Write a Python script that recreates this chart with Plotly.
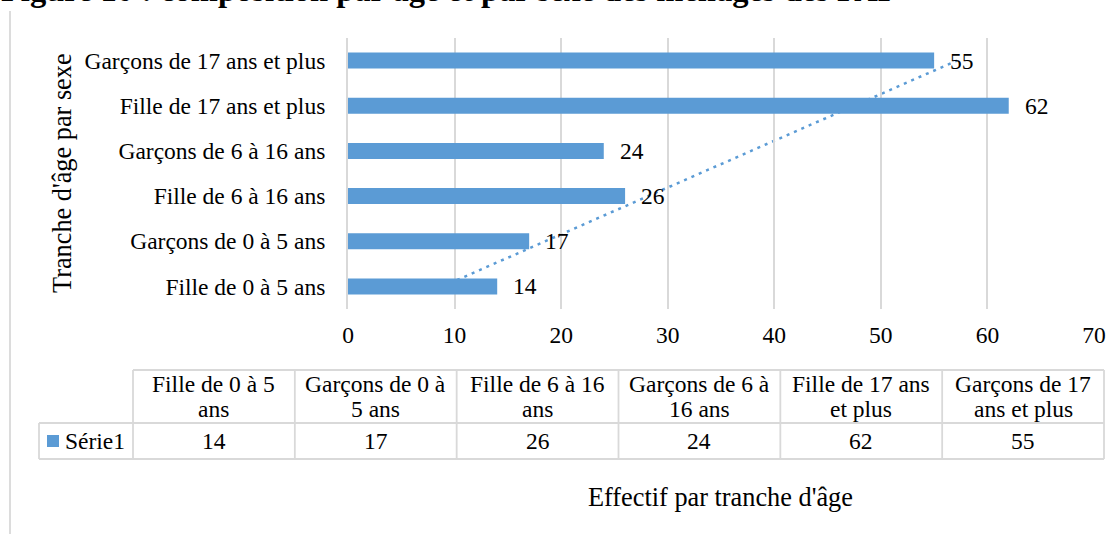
import textwrap
import numpy as np
import plotly.graph_objects as go

# ---------------- data ----------------
categories = [
    "Fille de 0 à 5 ans",
    "Garçons de 0 à 5 ans",
    "Fille de 6 à 16 ans",
    "Garçons de 6 à 16 ans",
    "Fille de 17 ans et plus",
    "Garçons de 17 ans et plus",
]
values = [14, 17, 26, 24, 62, 55]
series_name = "Série1"
x_ticks = [0, 10, 20, 30, 40, 50, 60, 70]
title_text = "Figure 10 : composition par âge et par sexe des ménages des PAP"
y_title = "Tranche d'âge par sexe"
x_title = "Effectif par tranche d'âge"

# ---------------- style ----------------
FW, FH = 1117, 534
L, R, T, B = 348, 23, 38, 225
W = FW - L - R
H = FH - T - B
BLUE = "#5B9BD5"
GRID = "#D9D9D9"
FONT = "Liberation Serif, Times New Roman, serif"
FS = 23.5
FS_TITLE = 26.3


def pxx(x):
    return (x - L) / W


def pxy(y):
    return (FH - B - y) / H


fig = go.Figure()

fig.add_trace(go.Bar(
    x=values, y=categories, orientation="h",
    marker=dict(color=BLUE, line=dict(width=0)),
    width=0.355, name=series_name, showlegend=False,
    hoverinfo="x+y",
))

# linear trendline (Excel style) computed from the series
idx = np.arange(1, len(values) + 1)
slope, intercept = np.polyfit(idx, values, 1)
fig.add_shape(type="line", xref="x", yref="y",
              x0=slope * idx[0] + intercept, y0=0,
              x1=slope * idx[-1] + intercept, y1=len(values) - 1,
              line=dict(color=BLUE, width=2.5, dash="3px,5px"), layer="below")

annotations = []
shapes = []

# data labels
for c, v in zip(categories, values):
    annotations.append(dict(x=v, y=c, xref="x", yref="y", text=str(v),
                            showarrow=False, xanchor="left", yanchor="middle",
                            xshift=14, font=dict(family=FONT, size=FS, color="black")))

# title (cut off at top like the reference)
annotations.append(dict(x=pxx(-1), y=pxy(10), xref="paper", yref="paper",
                        text="<b>" + title_text + "</b>", showarrow=False,
                        xanchor="left", yanchor="bottom",
                        font=dict(family=FONT, size=32.5, color="black")))

# axis titles
annotations.append(dict(x=pxx(62), y=pxy(173), xref="paper", yref="paper",
                        text=y_title, showarrow=False, textangle=-90,
                        xanchor="center", yanchor="middle",
                        font=dict(family=FONT, size=FS_TITLE, color="black")))
annotations.append(dict(x=pxx(720), y=pxy(497), xref="paper", yref="paper",
                        text=x_title, showarrow=False,
                        xanchor="center", yanchor="middle",
                        font=dict(family=FONT, size=FS_TITLE, color="black")))

line_style = dict(color=GRID, width=1.8)


def hline(x0, x1, y):
    shapes.append(dict(type="line", xref="paper", yref="paper",
                       x0=pxx(x0), x1=pxx(x1), y0=pxy(y), y1=pxy(y), line=line_style))


def vline(x, y0, y1):
    shapes.append(dict(type="line", xref="paper", yref="paper",
                       x0=pxx(x), x1=pxx(x), y0=pxy(y0), y1=pxy(y1), line=line_style))


# outer chart border
hline(10, 1130, 11)
vline(10, 11, 545)

# data table
tab_left, tab_right = 133, 1104
leg_left = 39
row_top, row_mid, row_bot = 370, 423, 459
col_w = (tab_right - tab_left) / len(categories)

hline(tab_left, tab_right, row_top)
hline(leg_left, tab_right, row_mid)
hline(leg_left, tab_right, row_bot)
vline(leg_left, row_mid, row_bot)
for i in range(len(categories) + 1):
    vline(tab_left + i * col_w, row_top, row_bot)

for i, (c, v) in enumerate(zip(categories, values)):
    cx = tab_left + (i + 0.5) * col_w
    lines = textwrap.wrap(c, 15)
    for j, ln in enumerate(lines):
        annotations.append(dict(x=pxx(cx), y=pxy(384 + 25 * j), xref="paper", yref="paper",
                                text=ln, showarrow=False, xanchor="center", yanchor="middle",
                                font=dict(family=FONT, size=FS, color="black")))
    annotations.append(dict(x=pxx(cx), y=pxy(441), xref="paper", yref="paper",
                            text=str(v), showarrow=False, xanchor="center", yanchor="middle",
                            font=dict(family=FONT, size=FS, color="black")))

# legend key in table
shapes.append(dict(type="rect", xref="paper", yref="paper",
                   x0=pxx(47), x1=pxx(59), y0=pxy(447), y1=pxy(435),
                   fillcolor=BLUE, line=dict(width=0)))
annotations.append(dict(x=pxx(63), y=pxy(441), xref="paper", yref="paper",
                        text=series_name, showarrow=False, xanchor="left", yanchor="middle",
                        font=dict(family=FONT, size=FS, color="black")))

fig.update_layout(
    width=FW, height=FH,
    margin=dict(l=L, r=R, t=T, b=B, autoexpand=False),
    paper_bgcolor="white", plot_bgcolor="white",
    showlegend=False,
    bargap=0.5,
    annotations=annotations,
    shapes=shapes,
    xaxis=dict(range=[0, 70], tickvals=x_ticks, showgrid=True, gridcolor=GRID, gridwidth=1.5,
               zeroline=False, showline=False, ticks="", ticklabelstandoff=9,
               tickfont=dict(family=FONT, size=FS, color="black")),
    yaxis=dict(type="category", categoryorder="array", categoryarray=categories,
               showgrid=False, showline=True, linecolor=GRID, linewidth=2,
               ticks="", ticklabelstandoff=16,
               tickfont=dict(family=FONT, size=FS, color="black")),
)

fig.write_html("out.html", config={"displayModeBar": False},
               post_script="document.body.style.margin='0';document.body.style.padding='0';")
